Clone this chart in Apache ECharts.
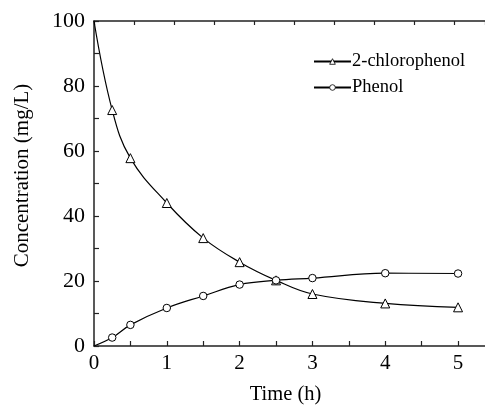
<!DOCTYPE html>
<html><head><meta charset="utf-8">
<script src="https://cdn.jsdelivr.net/npm/echarts@6/dist/echarts.min.js"></script>
<style>html,body{margin:0;padding:0;background:#fff}#c{width:485px;height:410px}</style>
</head><body><div id="c"></div>
<script>
var time = [0, 0.25, 0.5, 1, 1.5, 2, 2.5, 3, 4, 5];
var chlorophenol = [100, 72.6, 57.8, 44.0, 33.2, 25.8, 20.2, 16.0, 13.1, 11.9];
var phenol = [0, 2.6, 6.5, 11.7, 15.4, 18.9, 20.2, 20.9, 22.4, 22.3];
var xTicks = [0, 1, 2, 3, 4, 5];
var yTicks = [0, 20, 40, 60, 80, 100];

var font = 'Liberation Serif';
function pairs(xs, ys){
  return xs.map(function(x,i){
    var d = {value: [x, ys[i]]};
    if (i === 0) d.symbol = 'none';
    return d;
  });
}
var chart = echarts.init(document.getElementById('c'));
chart.setOption({
  animation: false,
  textStyle: {fontFamily: font},
  grid: {left: 94, top: 21, right: 0, bottom: 64, containLabel: false, outerBoundsMode: 'none'},
  legend: {
    left: 308, top: 47, orient: 'vertical', itemWidth: 37, itemHeight: 7, itemGap: 7,
    itemStyle: {borderWidth: 0.8},
    textStyle: {fontFamily: font, fontSize: 18.5, color: '#000', padding: [0,0,0,-4]},
    data: ['2-chlorophenol', 'Phenol']
  },
  xAxis: [{
    type: 'value', min: 0, max: 5.37, interval: 1,
    name: 'Time (h)', nameLocation: 'middle', nameGap: 38,
    nameTextStyle: {fontFamily: font, fontSize: 20.5, color: '#000', padding: [0,8,0,0]},
    axisLine: {lineStyle: {color: '#222', width: 1.5}},
    axisTick: {inside: true, length: 5, lineStyle: {color: '#222', width: 1.2}, customValues: xTicks},
    minorTick: {show: true, splitNumber: 2, length: 5, lineStyle: {color: '#222', width: 1.2}},
    axisLabel: {fontFamily: font, fontSize: 21, color: '#000', margin: 7, customValues: xTicks},
    splitLine: {show: false}
  }, {
    type: 'value', position: 'top', min: 0, max: 9.775, interval: 1,
    axisLine: {show: true, lineStyle: {color: '#222', width: 1.5}},
    axisTick: {inside: true, length: 4, lineStyle: {color: '#222', width: 1.2}},
    axisLabel: {show: false}, splitLine: {show: false}
  }],
  yAxis: {
    type: 'value', min: 0, max: 100, interval: 20,
    name: 'Concentration (mg/L)', nameLocation: 'middle', nameGap: 61,
    nameTextStyle: {fontFamily: font, fontSize: 21, color: '#000', padding: [0,0,0,16]},
    axisLine: {show: true, lineStyle: {color: '#222', width: 1.5}},
    axisTick: {inside: true, length: 5, lineStyle: {color: '#222', width: 1.2}},
    minorTick: {show: true, splitNumber: 2, length: 5, lineStyle: {color: '#222', width: 1.2}},
    axisLabel: {fontFamily: font, fontSize: 22, color: '#000', margin: 9},
    splitLine: {show: false}
  },
  series: [{
    name: '2-chlorophenol', type: 'line', smooth: 0.4, data: pairs(time, chlorophenol),
    symbol: 'triangle', symbolSize: 9,
    lineStyle: {color: '#000', width: 1.2},
    itemStyle: {color: '#fff', borderColor: '#000', borderWidth: 1}
  }, {
    name: 'Phenol', type: 'line', smooth: 0.4, data: pairs(time, phenol),
    symbol: 'circle', symbolSize: 7.5,
    lineStyle: {color: '#000', width: 1.2},
    itemStyle: {color: '#fff', borderColor: '#000', borderWidth: 1}
  }]
});
</script></body></html>
